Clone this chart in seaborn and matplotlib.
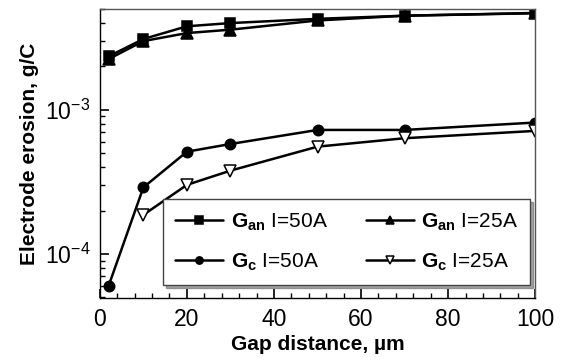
import matplotlib
matplotlib.use("Agg")
import matplotlib.pyplot as plt
from matplotlib.ticker import LogLocator, MultipleLocator, LogFormatterMathtext, NullFormatter
import seaborn as sns
import pandas as pd

# Gap distance (µm) and electrode erosion (g/C)
gap = [2, 10, 20, 30, 50, 70, 100]
gan_50 = [2.35e-3, 3.1e-3, 3.8e-3, 4.0e-3, 4.28e-3, 4.5e-3, 4.68e-3]
gan_25 = [2.25e-3, 3.0e-3, 3.41e-3, 3.6e-3, 4.17e-3, 4.5e-3, 4.7e-3]
gc_50 = [6.0e-5, 2.9e-4, 5.13e-4, 5.8e-4, 7.26e-4, 7.26e-4, 8.17e-4]
gap_gc25 = [10, 20, 30, 50, 70, 100]
gc_25 = [1.87e-4, 3.02e-4, 3.79e-4, 5.56e-4, 6.36e-4, 7.15e-4]

labels = [r"$\mathbf{G_{an}}$ I=50A", r"$\mathbf{G_{an}}$ I=25A",
          r"$\mathbf{G_{c}}$ I=50A", r"$\mathbf{G_{c}}$ I=25A"]

sns.set_style("ticks")
plt.rcParams.update({
    "font.family": ["Liberation Sans", "DejaVu Sans"],
    "mathtext.fontset": "custom",
    "mathtext.rm": "Liberation Sans",
    "mathtext.bf": "Liberation Sans:bold",
    "mathtext.it": "Liberation Sans:italic",
    "text.color": "black",
    "axes.labelcolor": "black",
})

fig = plt.figure(figsize=(5.64, 3.64), dpi=100)
ax = fig.add_axes([0.177, 0.181, 0.772, 0.794])

series = [
    (gap, gan_50, labels[0], "s", "black", 7.5),
    (gap, gan_25, labels[1], "^", "black", 8),
    (gap, gc_50, labels[2], "o", "black", 7.5),
    (gap_gc25, gc_25, labels[3], "v", "white", 8),
]
for xs, ys, lab, mk, fc, ms in series:
    df = pd.DataFrame({"gap": xs, "erosion": ys})
    sns.lineplot(data=df, x="gap", y="erosion", ax=ax, color="black",
                 linewidth=1.8, marker=mk, markersize=ms,
                 markerfacecolor=fc, markeredgecolor="black",
                 markeredgewidth=1.1, label=lab)

ax.set_yscale("log")
ax.set_xlim(0, 100)
ax.set_ylim(4.95e-5, 5.0e-3)

ax.xaxis.set_major_locator(MultipleLocator(20))
ax.xaxis.set_minor_locator(MultipleLocator(4))
ax.yaxis.set_major_locator(LogLocator(base=10, numticks=10))
ax.yaxis.set_major_formatter(LogFormatterMathtext())
ax.yaxis.set_minor_locator(LogLocator(base=10, subs=range(2, 10), numticks=20))
ax.yaxis.set_minor_formatter(NullFormatter())

for sp in ax.spines.values():
    sp.set_linewidth(1.0)
    sp.set_color("black")
ax.spines["top"].set_color("#555555")
ax.spines["right"].set_color("#555555")

ax.set_xlabel("Gap distance, µm", fontsize=15, fontweight="bold", labelpad=3)
ax.set_ylabel("Electrode erosion, g/C", fontsize=15, fontweight="bold", labelpad=4)

# row-wise legend order: anode series on top row, cathode series below
handles, labs = ax.get_legend_handles_labels()
order = [0, 2, 1, 3]
leg = ax.legend([handles[i] for i in order], [labs[i] for i in order],
                ncol=2, loc="lower left",
                bbox_to_anchor=(0.145, 0.045, 0.844, 0.28), mode="expand",
                borderaxespad=0,
                fontsize=15, frameon=True, fancybox=False, shadow=True,
                handlelength=2.3, handletextpad=0.35, columnspacing=0.5,
                borderpad=0.6, labelspacing=0.9, framealpha=1,
                markerscale=0.7)
leg.get_frame().set_edgecolor("#444444")
leg.get_frame().set_linewidth(1.0)

# inward ticks on the left and bottom axes only
ax.tick_params(which="both", direction="in", color="black",
               bottom=True, left=True, top=False, right=False)
ax.tick_params(which="major", length=6.5, width=1.2,
               labelsize=16.5, labelcolor="black", pad=7)
ax.tick_params(which="minor", length=3.5, width=1.0)

fig.savefig("out.png", dpi=100)
